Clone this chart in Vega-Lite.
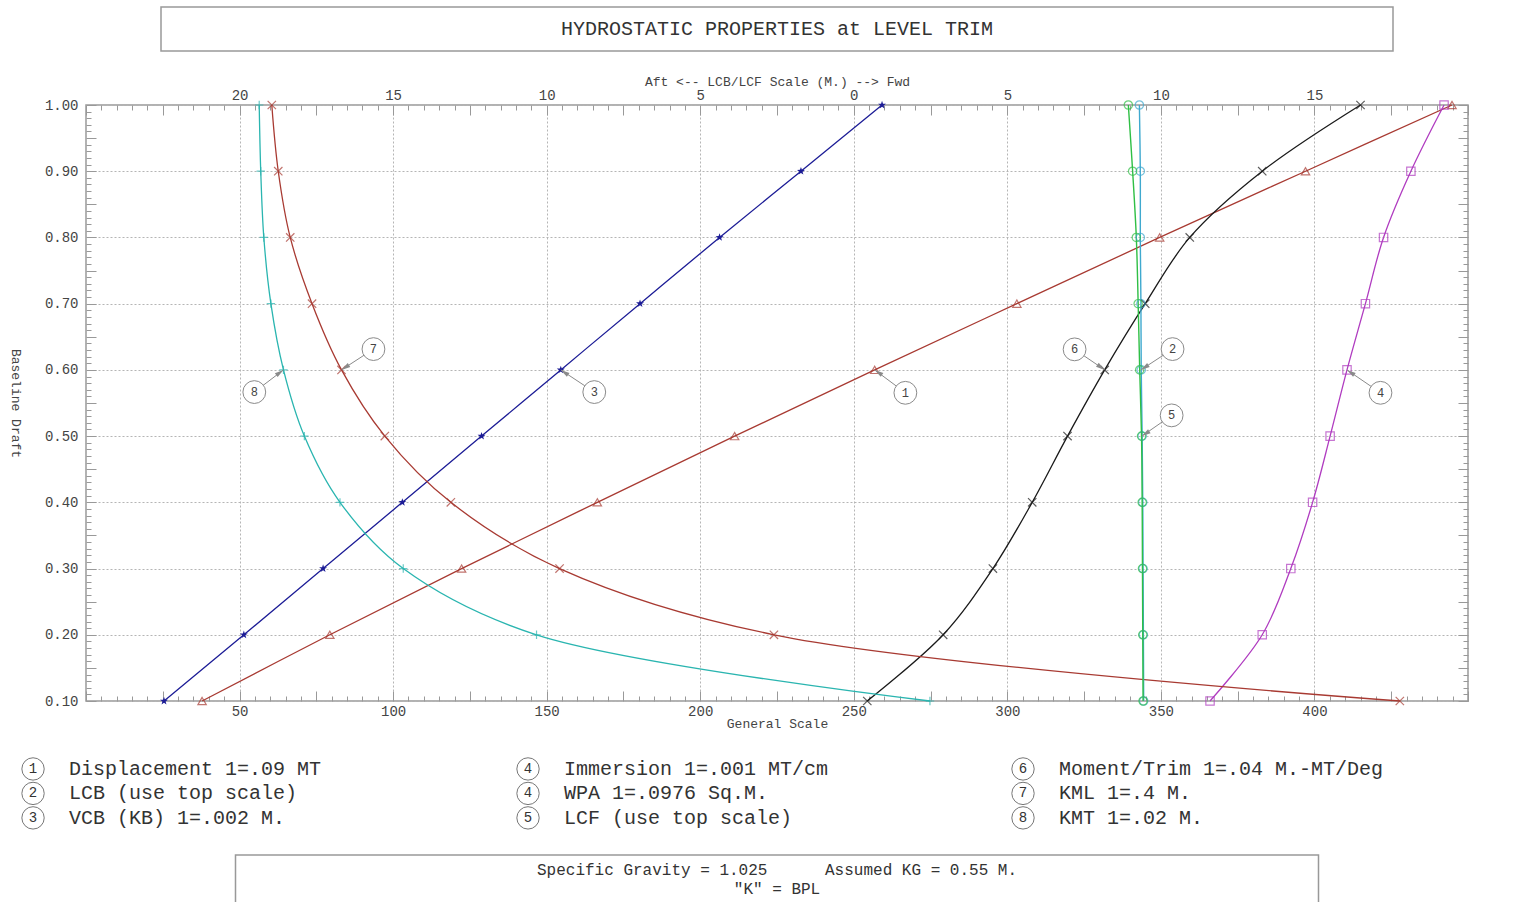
{
  "$schema": "https://vega.github.io/schema/vega-lite/v6.json",
  "background": "white",
  "padding": {"left": 7, "top": 6, "right": 0, "bottom": 0},
  "bounds": "flush",
  "center": true,
  "spacing": 54,
  "config": {
    "font": "Liberation Mono",
    "view": {"stroke": null},
    "axis": {
      "labelFont": "Liberation Mono",
      "titleFont": "Liberation Mono",
      "labelColor": "#444",
      "titleColor": "#444",
      "labelFontSize": 14,
      "titleFontSize": 13,
      "titleFontWeight": "normal",
      "domain": false,
      "tickColor": "#999",
      "labelOverlap": false,
      "labelFlush": false,
      "labelBound": false
    },
    "text": {"font": "Liberation Mono"}
  },
  "datasets": {
    "curves": [
      {"series": "Displacement", "draft": 0.1, "value": 37.8},
      {"series": "Displacement", "draft": 0.2, "value": 79.4},
      {"series": "Displacement", "draft": 0.3, "value": 122.3},
      {"series": "Displacement", "draft": 0.4, "value": 166.5},
      {"series": "Displacement", "draft": 0.5, "value": 211.2},
      {"series": "Displacement", "draft": 0.6, "value": 256.8},
      {"series": "Displacement", "draft": 0.7, "value": 303.1},
      {"series": "Displacement", "draft": 0.8, "value": 349.6},
      {"series": "Displacement", "draft": 0.9, "value": 397.1},
      {"series": "Displacement", "draft": 1.0, "value": 444.8},
      {"series": "VCB", "draft": 0.1, "value": 25.4},
      {"series": "VCB", "draft": 0.2, "value": 51.4},
      {"series": "VCB", "draft": 0.3, "value": 77.2},
      {"series": "VCB", "draft": 0.4, "value": 103.0},
      {"series": "VCB", "draft": 0.5, "value": 128.8},
      {"series": "VCB", "draft": 0.6, "value": 154.6},
      {"series": "VCB", "draft": 0.7, "value": 180.4},
      {"series": "VCB", "draft": 0.8, "value": 206.3},
      {"series": "VCB", "draft": 0.9, "value": 232.8},
      {"series": "VCB", "draft": 1.0, "value": 259.2},
      {"series": "Immersion", "draft": 0.1, "value": 366.0},
      {"series": "Immersion", "draft": 0.2, "value": 383.0},
      {"series": "Immersion", "draft": 0.3, "value": 392.3},
      {"series": "Immersion", "draft": 0.4, "value": 399.4},
      {"series": "Immersion", "draft": 0.5, "value": 405.1},
      {"series": "Immersion", "draft": 0.6, "value": 410.6},
      {"series": "Immersion", "draft": 0.7, "value": 416.6},
      {"series": "Immersion", "draft": 0.8, "value": 422.5},
      {"series": "Immersion", "draft": 0.9, "value": 431.4},
      {"series": "Immersion", "draft": 1.0, "value": 442.2},
      {"series": "MTC", "draft": 0.1, "value": 254.4},
      {"series": "MTC", "draft": 0.2, "value": 279.1},
      {"series": "MTC", "draft": 0.3, "value": 295.3},
      {"series": "MTC", "draft": 0.4, "value": 308.1},
      {"series": "MTC", "draft": 0.5, "value": 319.6},
      {"series": "MTC", "draft": 0.6, "value": 331.7},
      {"series": "MTC", "draft": 0.7, "value": 344.9},
      {"series": "MTC", "draft": 0.8, "value": 359.4},
      {"series": "MTC", "draft": 0.9, "value": 383.0},
      {"series": "MTC", "draft": 1.0, "value": 415.0},
      {"series": "KML", "draft": 0.1, "value": 427.8},
      {"series": "KML", "draft": 0.2, "value": 224.0},
      {"series": "KML", "draft": 0.3, "value": 154.2},
      {"series": "KML", "draft": 0.4, "value": 118.8},
      {"series": "KML", "draft": 0.5, "value": 97.3},
      {"series": "KML", "draft": 0.6, "value": 83.2},
      {"series": "KML", "draft": 0.7, "value": 73.6},
      {"series": "KML", "draft": 0.8, "value": 66.5},
      {"series": "KML", "draft": 0.9, "value": 62.6},
      {"series": "KML", "draft": 1.0, "value": 60.5},
      {"series": "KMT", "draft": 0.1, "value": 274.8},
      {"series": "KMT", "draft": 0.2, "value": 146.7},
      {"series": "KMT", "draft": 0.3, "value": 103.3},
      {"series": "KMT", "draft": 0.4, "value": 82.7},
      {"series": "KMT", "draft": 0.5, "value": 71.1},
      {"series": "KMT", "draft": 0.6, "value": 64.3},
      {"series": "KMT", "draft": 0.7, "value": 60.2},
      {"series": "KMT", "draft": 0.8, "value": 57.9},
      {"series": "KMT", "draft": 0.9, "value": 56.9},
      {"series": "KMT", "draft": 1.0, "value": 56.4},
      {"series": "LCB", "draft": 0.1, "value": 344.4},
      {"series": "LCB", "draft": 0.2, "value": 344.3},
      {"series": "LCB", "draft": 0.3, "value": 344.2},
      {"series": "LCB", "draft": 0.4, "value": 344.1},
      {"series": "LCB", "draft": 0.5, "value": 343.9},
      {"series": "LCB", "draft": 0.6, "value": 343.6},
      {"series": "LCB", "draft": 0.7, "value": 343.5},
      {"series": "LCB", "draft": 0.8, "value": 343.3},
      {"series": "LCB", "draft": 0.9, "value": 343.3},
      {"series": "LCB", "draft": 1.0, "value": 343.0},
      {"series": "LCF", "draft": 0.1, "value": 344.2},
      {"series": "LCF", "draft": 0.2, "value": 344.1},
      {"series": "LCF", "draft": 0.3, "value": 344.0},
      {"series": "LCF", "draft": 0.4, "value": 343.9},
      {"series": "LCF", "draft": 0.5, "value": 343.7},
      {"series": "LCF", "draft": 0.6, "value": 343.1},
      {"series": "LCF", "draft": 0.7, "value": 342.6},
      {"series": "LCF", "draft": 0.8, "value": 342.0},
      {"series": "LCF", "draft": 0.9, "value": 340.8},
      {"series": "LCF", "draft": 1.0, "value": 339.4}
    ],
    "callouts": [
      {"num": "1", "lg": 266.8, "ld": 0.5654, "g": 256.8, "d": 0.6},
      {"num": "2", "lg": 353.8, "ld": 0.6314, "g": 343.5, "d": 0.6},
      {"num": "3", "lg": 165.5, "ld": 0.5665, "g": 154.6, "d": 0.6},
      {"num": "4", "lg": 421.5, "ld": 0.5654, "g": 410.6, "d": 0.6},
      {"num": "5", "lg": 353.5, "ld": 0.5313, "g": 343.8, "d": 0.5},
      {"num": "6", "lg": 321.9, "ld": 0.6310, "g": 331.7, "d": 0.6},
      {"num": "7", "lg": 93.6, "ld": 0.6314, "g": 83.2, "d": 0.6},
      {"num": "8", "lg": 54.8, "ld": 0.5665, "g": 64.3, "d": 0.6}
    ],
    "legend": [
      {"num": "1", "label": "Displacement 1=.09 MT", "col": 0, "row": 1},
      {"num": "2", "label": "LCB (use top scale)", "col": 0, "row": 2},
      {"num": "3", "label": "VCB (KB) 1=.002 M.", "col": 0, "row": 3},
      {"num": "4", "label": "Immersion 1=.001 MT/cm", "col": 1, "row": 1},
      {"num": "4", "label": "WPA 1=.0976 Sq.M.", "col": 1, "row": 2},
      {"num": "5", "label": "LCF (use top scale)", "col": 1, "row": 3},
      {"num": "6", "label": "Moment/Trim 1=.04 M.-MT/Deg", "col": 2, "row": 1},
      {"num": "7", "label": "KML 1=.4 M.", "col": 2, "row": 2},
      {"num": "8", "label": "KMT 1=.02 M.", "col": 2, "row": 3}
    ],
    "heading": [{"text": "HYDROSTATIC PROPERTIES at LEVEL TRIM"}],
    "footer": [
      {"line": 1, "text": "Specific Gravity = 1.025\u00a0\u00a0\u00a0\u00a0\u00a0\u00a0Assumed KG = 0.55 M."},
      {"line": 2, "text": "\"K\" = BPL"}
    ]
  },
  "vconcat": [
    {
      "width": 1232,
      "height": 44,
      "view": {"stroke": "#999", "strokeWidth": 1.5},
      "data": {"name": "heading"},
      "mark": {"type": "text", "fontSize": 20, "color": "#333"},
      "encoding": {"text": {"field": "text", "type": "nominal"}}
    },
    {
      "width": 1382,
      "height": 596,
      "view": {"stroke": "#999", "strokeWidth": 1.5},
      "data": {"name": "curves"},
      "layer": [
        {
          "transform": [{"filter": "datum.series !== 'LCB' && datum.series !== 'LCF'"}],
          "mark": {"type": "line", "interpolate": "catmull-rom", "strokeWidth": 1.3},
          "encoding": {
            "x": {
              "field": "value", "type": "quantitative",
              "scale": {"domain": [0, 450], "nice": false, "zero": false},
              "axis": {
                "orient": "bottom",
                "title": "General Scale",
                "titlePadding": -6,
                "labelPadding": 13,
                "values": [0,5,10,15,20,25,30,35,40,45,50,55,60,65,70,75,80,85,90,95,100,105,110,115,120,125,130,135,140,145,150,155,160,165,170,175,180,185,190,195,200,205,210,215,220,225,230,235,240,245,250,255,260,265,270,275,280,285,290,295,300,305,310,315,320,325,330,335,340,345,350,355,360,365,370,375,380,385,390,395,400,405,410,415,420,425,430,435,440,445,450],
                "labelExpr": "(datum.value % 50 === 0 && datum.value > 0 && datum.value < 450) ? format(datum.value, 'd') : ''",
                "tickSize": {"condition": {"test": "datum.value % 25 === 0", "value": -10}, "value": -5},
                "grid": true,
                "gridColor": "#b5b5b5",
                "gridDash": [2, 2],
                "gridOpacity": {"condition": {"test": "datum.value % 50 === 0", "value": 1}, "value": 0}
              }
            },
            "y": {
              "field": "draft", "type": "quantitative",
              "scale": {"domain": [0.1, 1.0], "nice": false, "zero": false},
              "axis": {
                "orient": "left",
                "title": "Baseline Draft",
                "titleAngle": 90,
                "titleX": -71,
                "titleBaseline": "middle",
                "labelPadding": 18,
                "values": [0.1,0.11,0.12,0.13,0.14,0.15,0.16,0.17,0.18,0.19,0.2,0.21,0.22,0.23,0.24,0.25,0.26,0.27,0.28,0.29,0.3,0.31,0.32,0.33,0.34,0.35,0.36,0.37,0.38,0.39,0.4,0.41,0.42,0.43,0.44,0.45,0.46,0.47,0.48,0.49,0.5,0.51,0.52,0.53,0.54,0.55,0.56,0.57,0.58,0.59,0.6,0.61,0.62,0.63,0.64,0.65,0.66,0.67,0.68,0.69,0.7,0.71,0.72,0.73,0.74,0.75,0.76,0.77,0.78,0.79,0.8,0.81,0.82,0.83,0.84,0.85,0.86,0.87,0.88,0.89,0.9,0.91,0.92,0.93,0.94,0.95,0.96,0.97,0.98,0.99,1],
                "labelExpr": "round(datum.value * 100) % 10 === 0 ? format(datum.value, '.2f') : ''",
                "tickSize": {"condition": {"test": "round(datum.value * 100) % 5 === 0", "value": -10}, "value": -5},
                "grid": true,
                "gridColor": "#b5b5b5",
                "gridDash": [2, 2],
                "gridOpacity": {"condition": {"test": "round(datum.value * 100) % 10 === 0", "value": 1}, "value": 0}
              }
            },
            "color": {
              "field": "series", "type": "nominal", "legend": null,
              "scale": {
                "domain": ["Displacement", "LCB", "VCB", "Immersion", "LCF", "MTC", "KML", "KMT"],
                "range": ["#a83a32", "#3fa9cf", "#1c1c96", "#b03cc0", "#2fbf45", "#1a1a1a", "#a83a32", "#2ab5b0"]
              }
            },
            "order": {"field": "draft", "type": "quantitative"}
          }
        },
        {
          "transform": [{"filter": "datum.series === 'LCB' || datum.series === 'LCF'"}],
          "mark": {"type": "line", "interpolate": "catmull-rom", "strokeWidth": 1.4},
          "encoding": {
            "x": {
              "field": "value", "type": "quantitative",
              "axis": {
                "orient": "top",
                "title": "Aft <-- LCB/LCF Scale (M.) --> Fwd",
                "titlePadding": -5,
                "labelPadding": 13,
                "grid": false,
                "values": [0,5,10,15,20,25,30,35,40,45,50,55,60,65,70,75,80,85,90,95,100,105,110,115,120,125,130,135,140,145,150,155,160,165,170,175,180,185,190,195,200,205,210,215,220,225,230,235,240,245,250,255,260,265,270,275,280,285,290,295,300,305,310,315,320,325,330,335,340,345,350,355,360,365,370,375,380,385,390,395,400,405,410,415,420,425,430,435,440,445,450],
                "labelExpr": "(datum.value % 50 === 0 && datum.value > 0 && datum.value < 450) ? format(abs((datum.value - 250) / 10), 'd') : ''",
                "tickSize": {"condition": {"test": "datum.value % 25 === 0", "value": -10}, "value": -5}
              }
            },
            "y": {
              "field": "draft", "type": "quantitative",
              "axis": {
                "orient": "right",
                "title": null,
                "labels": false,
                "grid": false,
                "values": [0.1,0.11,0.12,0.13,0.14,0.15,0.16,0.17,0.18,0.19,0.2,0.21,0.22,0.23,0.24,0.25,0.26,0.27,0.28,0.29,0.3,0.31,0.32,0.33,0.34,0.35,0.36,0.37,0.38,0.39,0.4,0.41,0.42,0.43,0.44,0.45,0.46,0.47,0.48,0.49,0.5,0.51,0.52,0.53,0.54,0.55,0.56,0.57,0.58,0.59,0.6,0.61,0.62,0.63,0.64,0.65,0.66,0.67,0.68,0.69,0.7,0.71,0.72,0.73,0.74,0.75,0.76,0.77,0.78,0.79,0.8,0.81,0.82,0.83,0.84,0.85,0.86,0.87,0.88,0.89,0.9,0.91,0.92,0.93,0.94,0.95,0.96,0.97,0.98,0.99,1],
                "tickSize": {"condition": {"test": "round(datum.value * 100) % 5 === 0", "value": -10}, "value": -5}
              }
            },
            "color": {
              "field": "series", "type": "nominal", "legend": null,
              "scale": {
                "domain": ["Displacement", "LCB", "VCB", "Immersion", "LCF", "MTC", "KML", "KMT"],
                "range": ["#a83a32", "#3fa9cf", "#1c1c96", "#b03cc0", "#2fbf45", "#1a1a1a", "#a83a32", "#2ab5b0"]
              }
            },
            "order": {"field": "draft", "type": "quantitative"}
          }
        },
        {
          "transform": [{"filter": "datum.series !== 'VCB'"}],
          "mark": {"type": "point", "filled": false, "size": 70, "strokeWidth": 1.2},
          "encoding": {
            "x": {"field": "value", "type": "quantitative", "axis": null},
            "y": {"field": "draft", "type": "quantitative", "axis": null},
            "color": {
              "field": "series", "type": "nominal", "legend": null,
              "scale": {
                "domain": ["Displacement", "LCB", "VCB", "Immersion", "LCF", "MTC", "KML", "KMT"],
                "range": ["#a83a32", "#3fa9cf", "#1c1c96", "#b03cc0", "#2fbf45", "#1a1a1a", "#a83a32", "#2ab5b0"]
              }
            },
            "shape": {
              "field": "series", "type": "nominal", "legend": null,
              "scale": {
                "domain": ["Displacement", "LCB", "VCB", "Immersion", "LCF", "MTC", "KML", "KMT"],
                "range": ["triangle-up", "circle", "M0,-1L0.235,-0.324L0.951,-0.309L0.38,0.124L0.588,0.809L0,0.4L-0.588,0.809L-0.38,0.124L-0.951,-0.309L-0.235,-0.324Z", "square", "circle", "M-1,-1L1,1M-1,1L1,-1", "M-1,-1L1,1M-1,1L1,-1", "M-1,0L1,0M0,-1L0,1"]
              }
            }
          }
        },
        {
          "transform": [{"filter": "datum.series === 'VCB'"}],
          "mark": {"type": "point", "filled": true, "size": 70, "color": "#1c1c96", "opacity": 1, "shape": "M0,-1L0.235,-0.324L0.951,-0.309L0.38,0.124L0.588,0.809L0,0.4L-0.588,0.809L-0.38,0.124L-0.951,-0.309L-0.235,-0.324Z"},
          "encoding": {
            "x": {"field": "value", "type": "quantitative", "axis": null},
            "y": {"field": "draft", "type": "quantitative", "axis": null}
          }
        },
        {
          "data": {"name": "callouts"},
          "mark": {"type": "rule", "color": "#8a8a8a", "strokeWidth": 1},
          "encoding": {
            "x": {"field": "lg", "type": "quantitative", "axis": null},
            "y": {"field": "ld", "type": "quantitative", "axis": null},
            "x2": {"field": "g"},
            "y2": {"field": "d"}
          }
        },
        {
          "data": {"name": "callouts"},
          "mark": {"type": "point", "filled": true, "size": 110, "color": "#8a8a8a", "opacity": 1, "shape": "M0,0L-0.45,1.7L0.45,1.7Z"},
          "encoding": {
            "x": {"field": "g", "type": "quantitative", "axis": null},
            "y": {"field": "d", "type": "quantitative", "axis": null},
            "angle": {
              "condition": [
                {"test": "indexof(['1','3','4'], datum.num) >= 0", "value": 304},
                {"test": "indexof(['2','5','7'], datum.num) >= 0", "value": 237},
                {"test": "datum.num === '8'", "value": 54}
              ],
              "value": 125
            }
          }
        },
        {
          "data": {"name": "callouts"},
          "mark": {"type": "point", "filled": true, "size": 520, "fill": "white", "stroke": "#8a8a8a", "strokeWidth": 1, "opacity": 1, "shape": "circle"},
          "encoding": {
            "x": {"field": "lg", "type": "quantitative", "axis": null},
            "y": {"field": "ld", "type": "quantitative", "axis": null}
          }
        },
        {
          "data": {"name": "callouts"},
          "mark": {"type": "text", "fontSize": 12, "color": "#444"},
          "encoding": {
            "x": {"field": "lg", "type": "quantitative", "axis": null},
            "y": {"field": "ld", "type": "quantitative", "axis": null},
            "text": {"field": "num", "type": "nominal"}
          }
        }
      ],
      "resolve": {"axis": {"x": "independent", "y": "independent"}}
    },
    {
      "width": 1382,
      "height": 46,
      "data": {"name": "legend"},
      "encoding": {
        "x": {"field": "col", "type": "quantitative", "scale": {"domain": [0.107, 2.899], "nice": false, "zero": false}, "axis": null},
        "y": {"field": "row", "type": "quantitative", "scale": {"domain": [0.43, 2.31], "reverse": true, "nice": false, "zero": false}, "axis": null}
      },
      "layer": [
        {"mark": {"type": "point", "shape": "circle", "size": 500, "filled": false, "color": "#777", "strokeWidth": 1, "opacity": 1}},
        {"mark": {"type": "text", "fontSize": 14, "color": "#333"}, "encoding": {"text": {"field": "num", "type": "nominal"}}},
        {"mark": {"type": "text", "align": "left", "dx": 36, "fontSize": 20, "color": "#333"}, "encoding": {"text": {"field": "label", "type": "nominal"}}}
      ]
    },
    {
      "width": 1083,
      "height": 49,
      "view": {"stroke": "#999", "strokeWidth": 1.5},
      "data": {"name": "footer"},
      "mark": {"type": "text", "fontSize": 16, "color": "#333"},
      "encoding": {
        "y": {"field": "line", "type": "ordinal", "scale": {"type": "point", "padding": 0.86}, "axis": null},
        "text": {"field": "text", "type": "nominal"}
      }
    }
  ]
}
